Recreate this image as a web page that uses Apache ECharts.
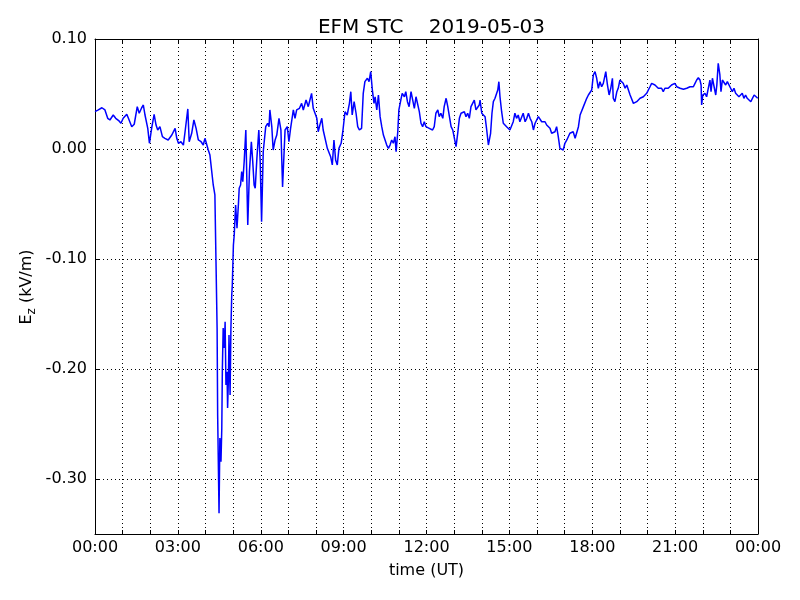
<!DOCTYPE html>
<html>
<head>
<meta charset="utf-8">
<script src="https://cdn.jsdelivr.net/npm/echarts@6/dist/echarts.min.js"></script>
<style>html,body{margin:0;padding:0;background:#fff}#c{width:800px;height:600px}</style>
</head>
<body>
<div id="c"></div>
<script>
// time in hours (UT), Ez in kV/m
var hours = [
0.00,0.12,0.25,0.36,0.46,0.54,0.66,0.75,0.87,0.94,1.02,1.15,1.21,1.33,1.42,1.53,1.60,1.69,1.75,1.81,1.91,1.97,2.05,2.14,2.21,2.27,2.35,2.44,2.53,2.65,2.78,2.90,2.96,3.02,3.11,3.20,3.26,3.36,3.41,3.50,3.58,3.66,3.74,3.84,3.92,
3.98,4.04,4.10,4.16,4.22,4.28,4.34,4.38,4.42,4.44,4.49,4.52,4.56,4.59,4.61,4.64,4.68,4.71,4.74,4.78,4.80,4.83,4.85,4.89,4.92,4.95,4.97,5.01,5.04,5.09,5.14,5.19,5.22,5.27,5.31,5.35,5.40,5.46,5.53,5.59,5.66,5.71,5.76,5.80,5.86,5.93,5.98,6.03,6.09,6.18,6.25,6.30,
6.33,6.40,6.45,6.52,6.58,6.66,6.73,6.79,6.88,6.96,7.02,7.08,7.18,7.24,7.30,7.40,7.48,7.54,7.64,7.72,7.78,7.84,7.90,7.96,8.03,8.08,8.14,8.21,8.26,8.33,8.41,8.47,8.53,8.59,8.65,8.71,8.77,8.83,8.91,8.97,9.05,9.13,9.21,9.26,9.31,9.38,9.45,9.51,9.57,9.65,9.71,9.77,9.86,9.92,9.98,10.04,10.10,
10.14,10.20,10.26,10.32,10.38,10.44,10.50,10.56,10.62,10.68,10.74,10.80,10.86,10.90,10.96,11.00,11.07,11.12,11.20,11.25,11.31,11.37,11.44,11.49,11.56,11.62,11.68,11.74,11.80,11.86,11.92,11.98,12.04,12.10,12.16,12.22,12.28,12.34,12.41,12.46,12.52,12.59,12.64,12.71,12.77,12.83,12.89,12.95,13.01,13.07,13.13,13.19,13.25,13.31,13.37,13.43,13.49,13.55,13.61,13.67,13.73,13.79,13.85,13.91,
13.94,14.00,14.06,14.12,14.18,14.24,14.27,14.32,14.37,14.42,14.48,14.54,14.58,14.62,14.66,14.72,14.78,14.84,14.90,14.96,15.02,15.08,15.14,15.20,15.26,15.32,15.38,15.45,15.50,15.57,15.63,15.69,15.75,15.81,15.87,15.93,15.99,16.05,16.11,16.17,16.23,16.29,16.35,16.41,16.47,16.53,16.59,16.65,16.71,16.77,16.83,16.89,16.95,17.01,17.08,17.13,17.19,17.26,17.31,17.38,17.44,17.50,17.56,17.62,17.68,
17.74,17.80,17.86,17.92,17.98,18.04,18.10,18.16,18.22,18.28,18.34,18.40,18.49,18.55,18.61,18.67,18.73,18.76,18.82,18.89,18.94,19.00,19.07,19.12,19.19,19.25,19.31,19.37,19.43,19.49,19.55,19.61,19.67,19.73,19.79,19.85,19.91,19.97,20.03,20.09,20.15,20.21,20.27,20.33,20.39,20.45,20.51,20.57,20.63,20.69,20.75,20.81,20.87,20.93,20.99,21.06,21.12,21.18,21.24,21.30,21.36,21.42,21.48,21.54,21.60,21.66,21.72,21.78,21.84,21.90,21.94,21.96,22.00,22.03,22.08,22.14,22.20,22.26,22.30,22.35,22.41,22.47,22.51,22.56,22.62,22.66,22.71,22.77,22.83,22.89,22.95,23.01,23.07,23.13,23.19,23.25,23.31,23.37,23.43,23.49,23.55,23.61,23.67,23.74,23.79,23.86,23.92,23.99
];
var ez = [
0.0339,0.0355,0.0375,0.0355,0.0279,0.0264,0.0309,0.0279,0.0255,0.0234,0.0279,0.0315,0.0279,0.0203,0.0225,0.0385,0.0325,0.0375,0.0400,0.0309,0.0188,0.0052,0.0188,0.0315,0.0218,0.0173,0.0203,0.0112,0.0097,0.0082,0.0127,0.0188,0.0097,0.0052,0.0066,0.0036,0.0157,0.0364,0.0066,0.0143,0.0264,0.0188,0.0082,0.0066,0.0036,
0.0097,0.0082,-0.0009,-0.0055,-0.0070,-0.0327,-0.0418,-0.1025,-0.1627,-0.2418,-0.3312,-0.2627,-0.2843,-0.2536,-0.2009,-0.1627,-0.1809,-0.1570,-0.2145,-0.2025,-0.2355,-0.2082,-0.1691,-0.2236,-0.1627,-0.1327,-0.1236,-0.0873,-0.0782,-0.0509,-0.0721,-0.0509,-0.0357,-0.0327,-0.0206,-0.0297,-0.0115,0.0173,-0.0691,-0.0206,0.0066,-0.0115,-0.0327,-0.0357,-0.0085,0.0173,-0.0115,-0.0661,-0.0025,0.0203,0.0234,0.0203,
0.0355,0.0203,-0.0009,0.0082,0.0127,0.0279,0.0173,-0.0345,0.0173,0.0203,0.0066,0.0188,0.0355,0.0279,0.0355,0.0370,0.0415,0.0355,0.0445,0.0385,0.0445,0.0506,0.0370,0.0355,0.0279,0.0157,0.0218,0.0279,0.0173,0.0157,0.0006,0.0021,-0.0070,-0.0145,0.0082,-0.0100,-0.0145,0.0006,0.0052,0.0157,0.0339,0.0309,0.0415,0.0521,0.0309,0.0430,0.0325,0.0203,0.0173,0.0188,0.0506,0.0612,0.0643,0.0612,0.0703,0.0536,0.0415,
0.0475,0.0355,0.0491,0.0294,0.0203,0.0127,0.0143,0.0036,0.0006,0.0036,0.0082,0.0052,0.0112,-0.0025,0.0157,0.0355,0.0445,0.0506,0.0475,0.0521,0.0430,0.0385,0.0521,0.0506,0.0370,0.0475,0.0491,0.0339,0.0234,0.0203,0.0248,0.0203,0.0218,0.0188,0.0203,0.0173,0.0203,0.0325,0.0355,0.0294,0.0325,0.0279,0.0385,0.0461,0.0385,0.0294,0.0203,0.0173,0.0097,0.0021,0.0143,0.0279,0.0325,0.0309,0.0339,0.0294,0.0325,0.0279,0.0385,0.0415,0.0445,0.0355,0.0339,0.0400,
0.0445,0.0325,0.0339,0.0294,0.0173,0.0036,0.0021,0.0143,0.0325,0.0430,0.0461,0.0475,0.0536,0.0612,0.0475,0.0339,0.0234,0.0248,0.0203,0.0218,0.0173,0.0157,0.0248,0.0325,0.0279,0.0309,0.0248,0.0294,0.0325,0.0248,0.0279,0.0325,0.0279,0.0248,0.0173,0.0234,0.0248,0.0294,0.0279,0.0248,0.0234,0.0248,0.0218,0.0203,0.0188,0.0143,0.0127,0.0157,0.0203,0.0112,0.0006,0.0006,-0.0009,0.0052,0.0082,0.0066,0.0143,0.0127,0.0157,0.0097,0.0097,0.0203,0.0309,0.0325,0.0385,
0.0385,0.0461,0.0491,0.0475,0.0536,0.0673,0.0703,0.0643,0.0552,0.0612,0.0566,0.0597,0.0703,0.0582,0.0491,0.0552,0.0643,0.0461,0.0430,0.0521,0.0552,0.0627,0.0643,0.0597,0.0552,0.0582,0.0566,0.0491,0.0475,0.0415,0.0400,0.0430,0.0445,0.0461,0.0445,0.0475,0.0475,0.0506,0.0521,0.0566,0.0597,0.0612,0.0582,0.0582,0.0552,0.0536,0.0552,0.0521,0.0552,0.0536,0.0552,0.0566,0.0582,0.0566,0.0597,0.0566,0.0552,0.0552,0.0552,0.0543,0.0552,0.0552,0.0552,0.0566,0.0552,0.0566,0.0597,0.0627,0.0648,0.0627,0.0582,0.0400,0.0491,0.0475,0.0506,0.0475,0.0552,0.0627,0.0521,0.0643,0.0627,0.0491,0.0582,0.0779,0.0673,0.0521,0.0627,0.0612,0.0582,0.0612,0.0597,0.0552,0.0521,0.0552,0.0506,0.0521,0.0475,0.0461,0.0506,0.0461,0.0491,0.0461,0.0475,0.0430,0.0445,0.0491,0.0475,0.0461
];
var yTicks = [-0.30, -0.20, -0.10, 0.00, 0.10];
var xLabelHours = [0, 3, 6, 9, 12, 15, 18, 21, 24];
var titleText = 'EFM STC    2019-05-03';
var yNameRich = '{a|E}{s|z}{a| (kV/m)}';

var pts = hours.map(function (h, i) { return [h, ez[i]]; });
function hh(v) { var h = Math.round(v) % 24; return (h < 10 ? '0' : '') + h + ':00'; }
var font = 'DejaVu Sans';
var grid = { left: 95, right: 42, top: 39, bottom: 66 };
var dotted = { color: '#000', width: 1, type: [1, 3] };

var chart = echarts.init(document.getElementById('c'), null, { renderer: 'canvas' });
chart.setOption({
  animation: false,
  backgroundColor: '#fff',
  title: {
    text: titleText, left: 426.5, top: 13, textAlign: 'center',
    textStyle: { fontFamily: font, fontSize: 20, fontWeight: 'normal', color: '#000' }
  },
  grid: grid,
  graphic: [{
    type: 'text', x: 27, y: 287, rotation: Math.PI / 2, z: 10,
    style: {
      text: yNameRich, align: 'center', verticalAlign: 'middle',
      fontFamily: font, fill: '#000',
      rich: {
        a: { fontFamily: font, fontSize: 16, fill: '#000', lineHeight: 22, verticalAlign: 'middle' },
        s: { fontFamily: font, fontSize: 12, fill: '#000', lineHeight: 12, verticalAlign: 'bottom' }
      }
    }
  }],
  xAxis: [{
    type: 'value', min: 0, max: 24, interval: 1,
    name: 'time (UT)', nameLocation: 'middle', nameGap: 29,
    nameTextStyle: { fontFamily: font, fontSize: 16, color: '#000' },
    axisLine: { onZero: false, lineStyle: { color: '#000', width: 1 } },
    axisTick: { inside: true, length: 4, lineStyle: { color: '#000' } },
    axisLabel: {
      fontFamily: font, fontSize: 16, color: '#000', margin: 6,
      formatter: function (v) { return xLabelHours.indexOf(Math.round(v)) >= 0 && Math.abs(v - Math.round(v)) < 1e-6 ? hh(v) : ''; }
    },
    splitLine: { show: true, lineStyle: dotted }
  }, {
    type: 'value', position: 'top', min: 0, max: 24, interval: 1,
    axisLine: { show: true, onZero: false, lineStyle: { color: '#000', width: 1 } },
    axisTick: { inside: true, length: 4, lineStyle: { color: '#000' } },
    axisLabel: { show: false }, splitLine: { show: false }
  }],
  yAxis: [{
    type: 'value', min: -0.35, max: 0.10,
    axisLine: { show: true, onZero: false, lineStyle: { color: '#000', width: 1 } },
    axisTick: { show: true, inside: true, length: 4, lineStyle: { color: '#000' }, customValues: yTicks },
    axisLabel: {
      fontFamily: font, fontSize: 16, color: '#000', margin: 8, customValues: yTicks,
      formatter: function (v) { return v.toFixed(2); }
    },
    splitLine: { show: false }
  }, {
    type: 'value', position: 'right', min: -0.35, max: 0.10,
    axisLine: { show: true, onZero: false, lineStyle: { color: '#000', width: 1 } },
    axisTick: { show: true, inside: true, length: 4, lineStyle: { color: '#000' }, customValues: yTicks },
    axisLabel: { show: false }, splitLine: { show: false }
  }],
  series: [{
    type: 'line', data: pts, xAxisIndex: 0, yAxisIndex: 0,
    showSymbol: false, symbol: 'none',
    lineStyle: { color: '#0000ff', width: 1.5 },
    z: 5,
    markLine: {
      silent: true, symbol: 'none', label: { show: false },
      lineStyle: dotted, z: 1,
      data: yTicks.map(function (v) { return { yAxis: v }; })
    }
  }]
});
</script>
</body>
</html>
